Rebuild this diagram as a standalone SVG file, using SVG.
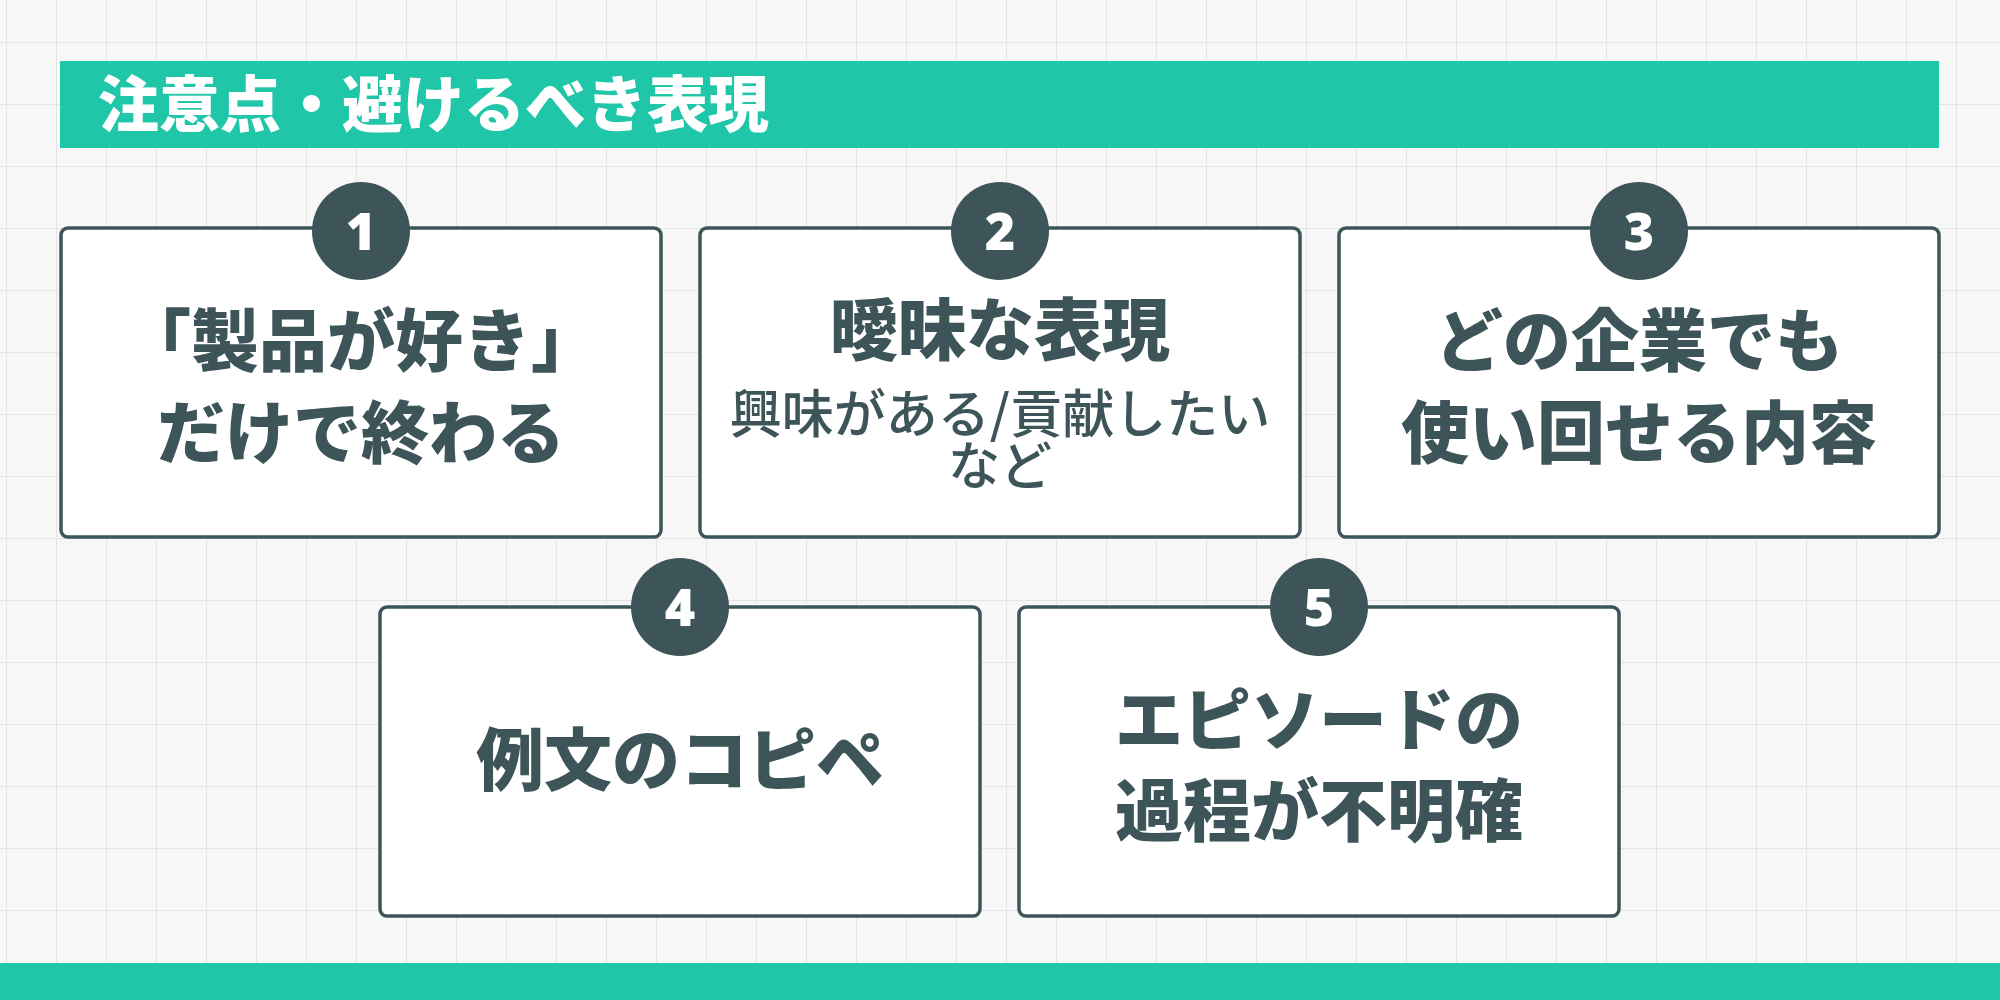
<svg xmlns="http://www.w3.org/2000/svg" width="2000" height="1000" viewBox="0 0 2000 1000">
<style>
.box{fill:#fff;stroke:#3d5558;stroke-width:3.5}
.num{fill:#3d5558}
.nt{fill:#fff;font-family:"Noto Sans","Noto Sans CJK JP",sans-serif;font-weight:900;font-size:52px;text-anchor:middle}
.t{fill:#3d5558;font-family:"Noto Sans CJK JP",sans-serif;font-weight:900;font-size:68px;text-anchor:middle}
.s{font-size:52px;font-weight:500}
</style>
<defs>
<pattern id="g" width="50" height="62" patternUnits="userSpaceOnUse" x="6" y="42">
<path d="M0 0H50M0 0V62" stroke="#dedede" stroke-width="1.5" fill="none"/>
</pattern>
</defs>
<rect width="2000" height="1000" fill="#f7f7f7"/>
<rect width="2000" height="1000" fill="url(#g)"/>
<g id="header">
<rect x="60" y="61" width="1879" height="87" fill="#1fc6a8"/>
<text x="98" y="127" font-family="Noto Sans CJK JP,sans-serif" font-weight="900" font-size="61" fill="#fff">注意点・避けるべき表現</text>
</g>
<rect x="0" y="963" width="2000" height="37" fill="#1fc6a8"/>
<g id="n1"><rect class="box" x="61" y="228" width="600" height="309" rx="7"/><circle class="num" cx="361" cy="231" r="49"/><text class="nt" x="361" y="250">1</text>
<text class="t" x="361" y="366">「製品が好き」</text><text class="t" x="361" y="458">だけで終わる</text></g>
<g id="n2"><rect class="box" x="700" y="228" width="600" height="309" rx="7"/><circle class="num" cx="1000" cy="231" r="49"/><text class="nt" x="1000" y="250">2</text>
<text class="t" x="1000" y="355">曖昧な表現</text><text class="t s" x="1000" y="433">興味がある/貢献したい</text><text class="t s" x="1000" y="485">など</text></g>
<g id="n3"><rect class="box" x="1339" y="228" width="600" height="309" rx="7"/><circle class="num" cx="1639" cy="231" r="49"/><text class="nt" x="1639" y="250">3</text>
<text class="t" x="1639" y="366">どの企業でも</text><text class="t" x="1639" y="458">使い回せる内容</text></g>
<g id="n4"><rect class="box" x="380" y="607" width="600" height="309" rx="7"/><circle class="num" cx="680" cy="607" r="49"/><text class="nt" x="680" y="626">4</text>
<text class="t" x="680" y="785">例文のコピペ</text></g>
<g id="n5"><rect class="box" x="1019" y="607" width="600" height="309" rx="7"/><circle class="num" cx="1319" cy="607" r="49"/><text class="nt" x="1319" y="626">5</text>
<text class="t" x="1319" y="745">エピソードの</text><text class="t" x="1319" y="836">過程が不明確</text></g>
<g id="connectors"/>
</svg>
